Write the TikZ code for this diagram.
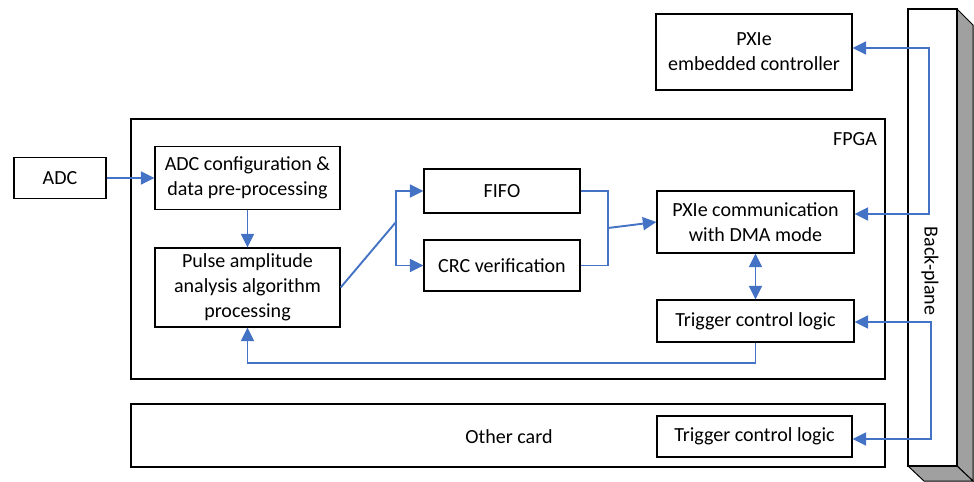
\documentclass[tikz,border=0pt]{standalone}
\usepackage{fontspec}
\setmainfont{Carlito}
\usetikzlibrary{arrows.meta}
\definecolor{linkblue}{HTML}{4472C4}
\definecolor{planegray}{HTML}{A0A0A0}
\begin{document}
\begin{tikzpicture}[x=0.02cm,y=-0.02cm,
    box/.style={draw,line width=0.026cm,align=center,inner sep=0pt,
      font=\fontsize{11.4}{14.2}\selectfont},
    label/.style={inner sep=0pt,font=\fontsize{11.4}{14.2}\selectfont},
    link/.style={draw=linkblue,line width=0.038cm},
    arr/.style={link,-{Triangle[length=0.27cm,width=0.26cm]}},
    dbl/.style={link,{Triangle[length=0.27cm,width=0.26cm]}-{Triangle[length=0.27cm,width=0.26cm]}}]
    \useasboundingbox (0,0) rectangle (974,481);
    
    % Drawing back-plane
    \filldraw [fill=planegray,line width=0.02cm] (957,9) -- (973,25) -- (973,481) -- (957,466) -- cycle;%
    \filldraw [fill=planegray,line width=0.02cm] (908,466) -- (957,466) -- (973,481) -- (924,481) -- cycle;%
    \filldraw [fill=white,line width=0.026cm] (908,9) rectangle (957,466);%
    \node [label,rotate=-90] (bplabel) at (930,271) {Back-plane};%
    
    % Drawing cards
    \node [box,minimum width=15.08cm,minimum height=5.2cm] (fpga) at (508,249) {};%
    \node [label] (fpgalabel) at (855,139) {FPGA};%
    \node [box,minimum width=15.08cm,minimum height=1.26cm] (other) at (508,435.5) {};%
    \node [label] (otherlabel) at (509,437) {Other card};%
    
    % Drawing blocks
    \node [box,minimum width=1.84cm,minimum height=0.82cm] (adc) at (60,178) {ADC};%
    \node [box,minimum width=3.7cm,minimum height=1.26cm] (cfg) at (247.5,178) {ADC configuration \&\\data pre-processing};%
    \node [box,minimum width=3.7cm,minimum height=1.58cm] (pulse) at (247.5,287.5) {Pulse amplitude\\analysis algorithm\\processing};%
    \node [box,minimum width=3.12cm,minimum height=0.88cm] (fifo) at (502,191) {FIFO};%
    \node [box,minimum width=3.12cm,minimum height=1.02cm] (crc) at (502,265.5) {CRC verification};%
    \node [box,minimum width=3.94cm,minimum height=1.24cm] (comm) at (755.5,222) {PXIe communication\\with DMA mode};%
    \node [box,minimum width=3.94cm,minimum height=0.84cm] (trig) at (755.5,321) {Trigger control logic};%
    \node [box,minimum width=3.92cm,minimum height=1.52cm] (ctrl) at (754,52) {PXIe\\embedded controller};%
    \node [box,minimum width=3.9cm,minimum height=0.82cm] (trigb) at (754.5,436.5) {Trigger control logic};%
    
    % Drawing data path
    \coordinate (split) at (396,222);%
    \coordinate (merge) at (608,228);%
    \draw [arr] (adc) -- (cfg);%
    \draw [arr] (cfg) -- (pulse);%
    \draw [link] (pulse.east) -- (split);%
    \draw [arr] (split) |- (fifo.west);%
    \draw [arr] (split) |- (crc.west);%
    \draw [link] (fifo.east) -| (merge);%
    \draw [link] (crc.east) -| (merge);%
    \draw [arr] (merge) -- (comm.west);%
    \draw [dbl] (comm) -- (trig);%
    \draw [arr] (trig.south) -- ++(0,20) -| (pulse.south);%
    
    % Drawing back-plane links
    \coordinate (bpa) at (929,48);%
    \coordinate (bpb) at (929,214);%
    \coordinate (bpc) at (931,322);%
    \coordinate (bpd) at (931,439);%
    \draw [dbl] (ctrl.east |- bpa) -- (bpa) -- (bpb) -- (comm.east |- bpb);%
    \draw [dbl] (trig.east |- bpc) -- (bpc) -- (bpd) -- (trigb.east |- bpd);%
\end{tikzpicture}
\end{document}
